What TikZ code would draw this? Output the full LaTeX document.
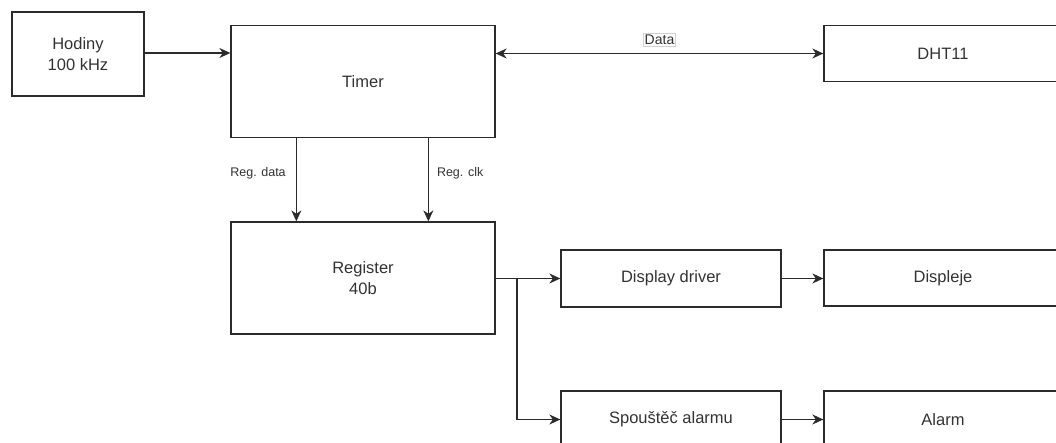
\documentclass[tikz,border=0pt]{standalone}
\usepackage{fontspec}
\setmainfont{Liberation Sans}
\usetikzlibrary{arrows.meta}
\definecolor{ink}{HTML}{333333}
\definecolor{edge}{HTML}{2B2B2B}
\begin{document}
\begin{tikzpicture}[x=1pt,y=-1pt,
  blk/.style={draw=edge,line width=1.3pt,fill=white,text=ink,align=center,
    inner sep=0pt,font=\fontsize{16.5}{21}\selectfont},
  tip/.tip={Stealth[length=11pt,width=10pt,inset=3.5pt]},
  arr/.style={draw=edge,line width=1.3pt,-tip},
  biarr/.style={draw=edge,line width=1.3pt,tip-tip},
  lbl/.style={text=ink,inner sep=1pt,font=\fontsize{12.5}{15}\selectfont}]
\useasboundingbox (0,0) rectangle (1056,443);
\clip (0,0) rectangle (1056,443);
\fill[white] (0,0) rectangle (1056,443);

% blocks
\node[blk,minimum width=132pt,minimum height=84pt] (hod) at (78,54) {Hodiny\\100 kHz};
\node[blk,minimum width=264pt,minimum height=112pt] (timer) at (363,81.5) {Timer};
\node[blk,minimum width=238pt,minimum height=56pt] (dht) at (943,53.5) {DHT11};
\node[blk,minimum width=264pt,minimum height=112pt] (reg) at (363,278) {Register\\40b};
\node[blk,minimum width=220pt,minimum height=57pt] (drv) at (671,278.5) {Display driver};
\node[blk,minimum width=238pt,minimum height=56pt] (disp) at (943,278) {Displeje};
\node[blk,minimum width=220pt,minimum height=57pt] (trig) at (671,419.5) {Spouštěč alarmu};
\node[blk,minimum width=238pt,minimum height=57pt] (alarm) at (943,419.5) {Alarm};

% clock into timer
\draw[arr] ([yshift=1pt]hod.east) -- ([yshift=1pt]hod.east -| timer.west);

% bidirectional data line to the sensor
\draw[biarr] (timer.east |- dht.west) -- (dht.west)
  node[pos=0.5,yshift=13.5pt,draw=gray!35,fill=white,text=ink,inner sep=1.5pt,
       font=\fontsize{14}{16}\selectfont] (datalbl) {Data};

% timer to register
\draw[arr] ([xshift=66pt]timer.south west) -- ([xshift=66pt]reg.north west)
  node[lbl,pos=0.42,anchor=east,xshift=-9pt] (rdl) {Reg. data};
\draw[arr] ([xshift=198pt]timer.south west) -- ([xshift=198pt]reg.north west)
  node[lbl,pos=0.42,anchor=west,xshift=7pt] (rcl) {Reg. clk};

% register outputs
\draw[arr] (reg.east |- drv.west) -- (drv.west);
\coordinate (br) at (517,278.5);
\draw[arr] (br) |- (trig.west);

% downstream blocks
\draw[arr] (drv.east) -- (drv.east -| disp.west);
\draw[arr] (trig.east) -- (trig.east -| alarm.west);
\end{tikzpicture}
\end{document}
